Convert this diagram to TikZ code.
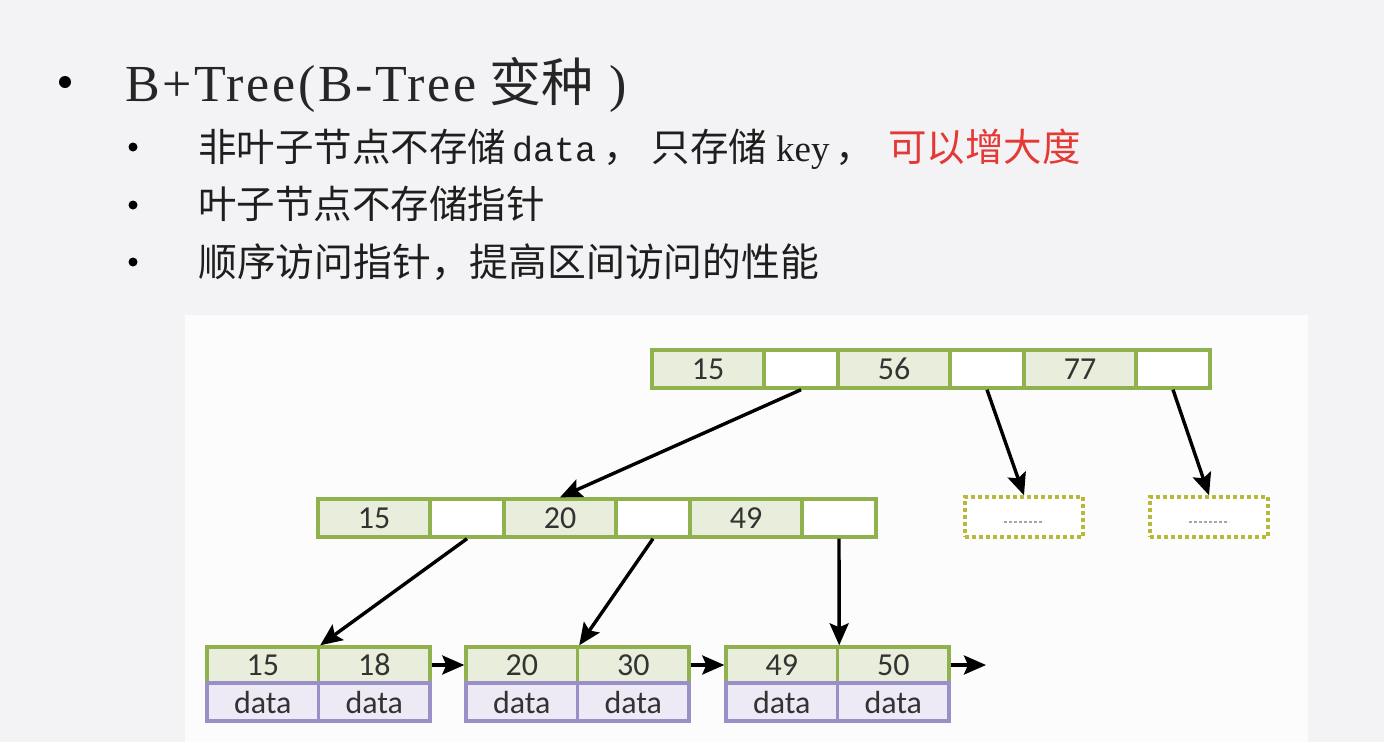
\documentclass[tikz,border=0pt]{standalone}
\usepackage{fontspec}
\setmainfont{Liberation Serif}
\newfontfamily\cjk{Noto Sans CJK SC}
\newfontfamily\monofnt{Liberation Mono}
\newfontfamily\numfnt{Carlito}
\newfontfamily\titlelat[LetterSpace=5]{Liberation Serif}
\usetikzlibrary{arrows.meta}
\definecolor{bgout}{HTML}{F3F3F5}
\definecolor{bgin}{HTML}{FCFCFC}
\definecolor{gfill}{HTML}{E8EEDB}
\definecolor{gborder}{HTML}{8FB24F}
\definecolor{pfill}{HTML}{EEEAF5}
\definecolor{pborder}{HTML}{9A90C8}
\definecolor{txtgray}{HTML}{333333}
\definecolor{txtdark}{HTML}{1E1E1E}
\definecolor{redtxt}{HTML}{E53935}
\definecolor{dashcol}{HTML}{B8B83C}
\tikzset{
  cellbase/.style={draw, line width=3.4pt, inner sep=0pt, minimum height=38pt,
    font=\numfnt\fontsize{32}{32}\selectfont, text=txtgray},
  keycell/.style={cellbase, draw=gborder, fill=gfill, minimum width=112pt},
  ptrcell/.style={cellbase, draw=gborder, fill=white, minimum width=74pt},
  leafkey/.style={cellbase, draw=gborder, fill=gfill, minimum width=111.5pt, minimum height=36pt},
  leafdata/.style={cellbase, draw=pborder, fill=pfill, minimum width=111.5pt, minimum height=38pt},
  dashbox/.style={draw=dashcol, dashed, dash pattern=on 4pt off 3pt, line width=3.4pt, fill=white,
    minimum width=118pt, minimum height=40pt, inner sep=0pt},
  arr/.style={line width=3.4pt, -{Stealth[length=22pt,width=19pt,inset=4pt]}, black},
  bullettxt/.style={anchor=base west, inner sep=0pt, text=txtdark},
}
\begin{document}
\begin{tikzpicture}[x=1pt,y=-1pt]
\fill[bgout] (0,0) rectangle (1384,742);
\useasboundingbox (0,0) rectangle (1384,742);
\fill[bgin] (185,315) rectangle (1308,742);

% bullets and text
\fill[black] (65,82) circle (6pt);
\node[bullettxt, font=\fontsize{52}{52}\selectfont, text=black!85] (title) at (125,101)
  {\titlelat B+Tree(B-Tree\hspace*{13pt}\cjk 变种\hspace*{16pt}\titlelat )};
\fill[black] (133,147) circle (4.5pt);
\fill[black] (133,205) circle (4.5pt);
\fill[black] (133,262) circle (4.5pt);
\node[bullettxt, font=\fontsize{38.5}{38.5}\selectfont] (l1) at (198,161)
  {\cjk 非叶子节点不存储\hspace*{6pt}{\monofnt\fontsize{35}{35}\selectfont data}\hspace*{7pt}，\hspace*{10pt}只存储\hspace*{9pt}{\rmfamily\fontsize{37}{37}\selectfont key}\hspace*{6pt}，\hspace*{14pt}\textcolor{redtxt}{可以增大度}};
\node[bullettxt, font=\fontsize{38.5}{38.5}\selectfont] (l2) at (198,218)
  {\cjk 叶子节点不存储指针};
\node[bullettxt, font=\fontsize{38.8}{38.8}\selectfont] (l3) at (198,276)
  {\cjk 顺序访问指针，提高区间访问的性能};

% root node
\node[keycell] (r1) at (708,369) {15};
\node[ptrcell] (r2) at (801,369) {};
\node[keycell] (r3) at (894,369) {56};
\node[ptrcell] (r4) at (987,369) {};
\node[keycell] (r5) at (1080,369) {77};
\node[ptrcell] (r6) at (1173,369) {};

% middle node
\node[keycell] (m1) at (374,518) {15};
\node[ptrcell] (m2) at (467,518) {};
\node[keycell] (m3) at (560,518) {20};
\node[ptrcell] (m4) at (653,518) {};
\node[keycell] (m5) at (746,518) {49};
\node[ptrcell] (m6) at (839,518) {};

% dashed placeholder boxes
\node[dashbox] (d1) at (1024,517) {};
\node[dashbox] (d2) at (1209,517) {};
\draw[gray!70, line width=2pt, dash pattern=on 3pt off 2pt] ([xshift=-20pt,yshift=-5pt]d1.center) -- ([xshift=20pt,yshift=-5pt]d1.center);
\draw[gray!70, line width=2pt, dash pattern=on 3pt off 2pt] ([xshift=-20pt,yshift=-5pt]d2.center) -- ([xshift=20pt,yshift=-5pt]d2.center);

% leaves
\node[leafkey] (a1) at (262.75,665) {15};
\node[leafkey] (a2) at (374.25,665) {18};
\node[leafdata] (a3) at (262.75,702) {data};
\node[leafdata] (a4) at (374.25,702) {data};

\node[leafkey] (b1) at (521.75,665) {20};
\node[leafkey] (b2) at (633.25,665) {30};
\node[leafdata] (b3) at (521.75,702) {data};
\node[leafdata] (b4) at (633.25,702) {data};

\node[leafkey] (c1) at (781.75,665) {49};
\node[leafkey] (c2) at (893.25,665) {50};
\node[leafdata] (c3) at (781.75,702) {data};
\node[leafdata] (c4) at (893.25,702) {data};

\coordinate (nextp) at (986,665);

% arrows
\draw[arr] (r2.south) -- (m3.north);
\draw[arr] (r4.south) -- (d1.north);
\draw[arr] (r6.south) -- (d2.north);
\draw[arr] (m2.south) -- (a1.north east);
\draw[arr] (m4.south) -- (b1.north east);
\draw[arr] (m6.south) -- (c1.north east);
\draw[arr] (a2.east) -- (b1.west);
\draw[arr] (b2.east) -- (c1.west);
\draw[arr] (c2.east) -- (nextp);
\end{tikzpicture}
\end{document}
